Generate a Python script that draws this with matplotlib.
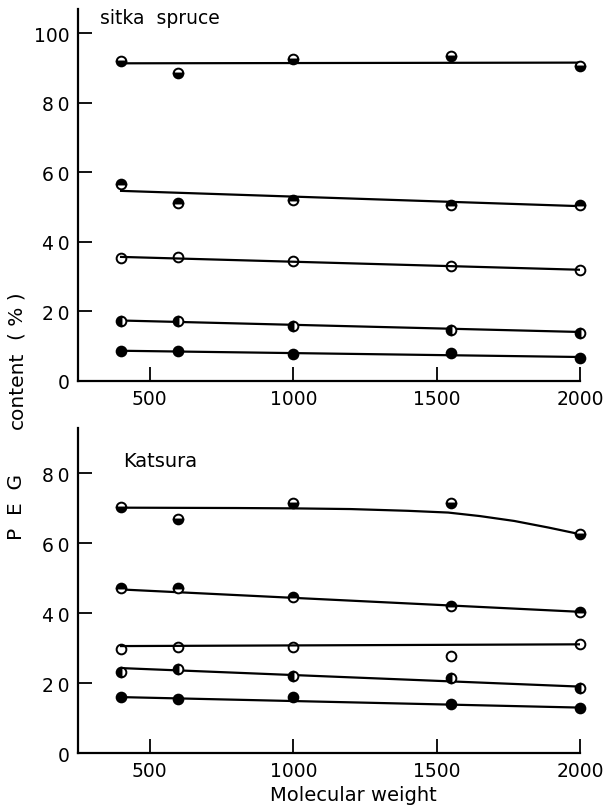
import numpy as np
import matplotlib
matplotlib.use('Agg')
import matplotlib.pyplot as plt

# molecular weight of PEG
mw = [400, 600, 1000, 1550, 2000]

# sitka spruce, PEG content (%) for five treatment levels
sitka_1 = [92.0, 88.4, 92.5, 93.3, 90.4]
sitka_2 = [56.5, 51.0, 52.0, 50.4, 50.6]
sitka_3 = [35.2, 35.6, 34.5, 33.0, 31.8]
sitka_4 = [17.1, 17.1, 15.7, 14.6, 13.7]
sitka_5 = [8.4, 8.4, 7.6, 7.9, 6.4]

# katsura
katsura_1 = [70.5, 67.1, 71.6, 71.4, 62.6]
katsura_2 = [47.1, 47.3, 44.7, 42.1, 40.4]
katsura_3 = [29.7, 30.3, 30.3, 27.7, 31.1]
katsura_4 = [23.1, 24.0, 22.0, 21.4, 18.6]
katsura_5 = [16.0, 15.4, 16.0, 14.0, 12.9]

# hand drawn fit lines (end points)
fit_x = [400, 2000]
sitka_fit = [[91.3, 91.5], [54.6, 50.2], [35.6, 31.9], [17.3, 14.0], [8.6, 6.8]]
katsura_fit = [None, [46.8, 40.4], [30.6, 31.1], [24.3, 19.0], [16.0, 13.0]]
# katsura top curve
curve_x = [400, 800, 1000, 1200, 1400, 1540, 1650, 1770, 1890, 2000]
curve_y = [70.2, 70.1, 70.0, 69.8, 69.3, 68.8, 67.8, 66.4, 64.5, 62.6]

fills = ['bottom', 'top', 'none', 'left', 'full']

fig = plt.figure(figsize=(6.05, 8.12), dpi=100)
ax1 = fig.add_axes([0.129, 0.530, 0.830, 0.458])
ax2 = fig.add_axes([0.129, 0.0714, 0.830, 0.4003])


def style(ax, ymax, yticks):
    ax.set_xlim(250, 2000)
    ax.set_ylim(0, ymax)
    ax.spines['top'].set_visible(False)
    ax.spines['right'].set_visible(False)
    ax.spines['left'].set_linewidth(1.6)
    ax.spines['bottom'].set_linewidth(1.6)
    ax.set_xticks([500, 1000, 1500, 2000])
    ax.set_yticks(yticks)
    ax.set_yticklabels([str(v) if v < 10 or v >= 100 else str(v)[0] + '\u2009' + str(v)[1] for v in yticks])
    ax.tick_params(direction='in', length=10, width=1.3, labelsize=13.5, pad=6)


def draw(ax, series, fits):
    for s, f, fs in zip(series, fits, fills):
        if f is not None:
            ax.plot(fit_x, f, color='black', lw=1.6, zorder=2)
        ax.plot(mw, s, linestyle='none', marker='o', markersize=7, fillstyle=fs,
                markerfacecolor='black', markerfacecoloralt='white',
                markeredgecolor='black', markeredgewidth=1.4, zorder=3, clip_on=False)


style(ax1, 107, [0, 20, 40, 60, 80, 100])
style(ax2, 93, [0, 20, 40, 60, 80])

draw(ax1, [sitka_1, sitka_2, sitka_3, sitka_4, sitka_5], sitka_fit)
ax2.plot(curve_x, curve_y, color='black', lw=1.6, zorder=2)
draw(ax2, [katsura_1, katsura_2, katsura_3, katsura_4, katsura_5], katsura_fit)

fig.text(100 / 605, 1 - 19 / 812, 'sitka  spruce', fontsize=13.5, va='center', ha='left')
fig.text(123 / 605, 1 - 462 / 812, 'Katsura', fontsize=14, va='center', ha='left')
fig.text(353 / 605, 1 - 796 / 812, 'Molecular weight', fontsize=14, va='center', ha='center')
# y label, drawn in three pieces to keep the wide gaps of the original
fig.text(17 / 605, 1 - 316 / 812, '( % )', fontsize=14.5, va='center', ha='center', rotation=90)
fig.text(17 / 605, 1 - 390 / 812, 'content', fontsize=14.5, va='center', ha='center', rotation=90)
fig.text(17 / 605, 1 - 507 / 812, 'P  E  G', fontsize=14.5, va='center', ha='center', rotation=90)

fig.savefig('out.png', dpi=100)
